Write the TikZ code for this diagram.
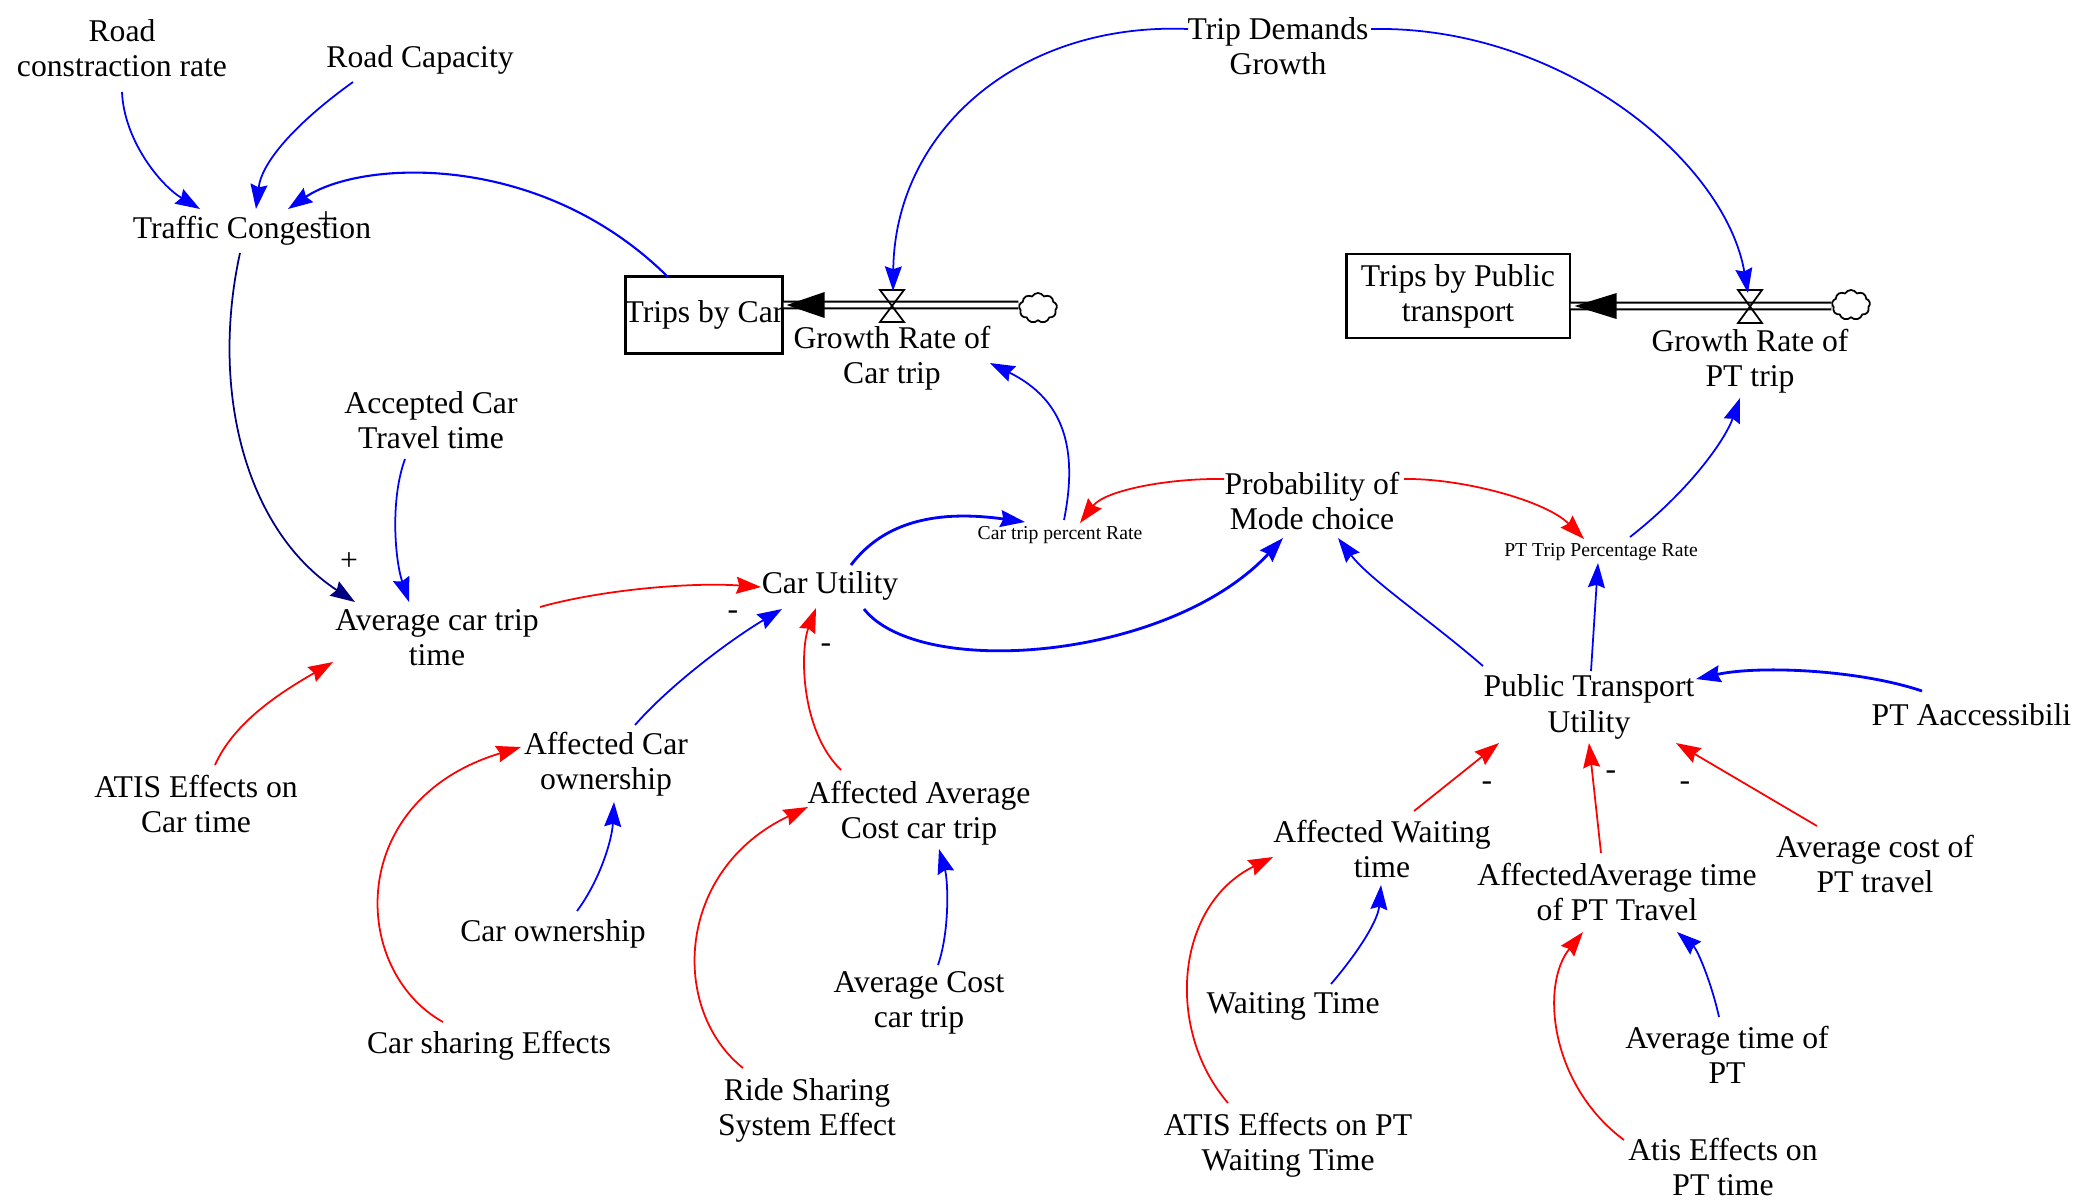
\documentclass[tikz,border=0pt]{standalone}
\usepackage{fontspec}
\setmainfont{Liberation Serif}
\usetikzlibrary{arrows.meta,shapes.symbols}
\definecolor{vblue}{RGB}{0,0,255}
\definecolor{vred}{RGB}{255,0,0}
\definecolor{vnavy}{RGB}{0,0,128}
\begin{document}
\begin{tikzpicture}[x=0.01cm,y=-0.01cm,
  lbl/.style={align=center,inner sep=0pt,font=\fontsize{9}{10}\selectfont},
  smalllbl/.style={align=center,inner sep=0pt,font=\fontsize{5.6}{6}\selectfont},
  sgn/.style={inner sep=0pt,font=\fontsize{9}{10}\selectfont},
  arr/.style={-{Stealth[length=7pt,width=4.8pt,inset=0.8pt]}},
  blu/.style={arr,draw=vblue,line width=0.5pt},
  blut/.style={arr,draw=vblue,line width=0.8pt},
  rd/.style={arr,draw=vred,line width=0.5pt},
  nv/.style={arr,draw=vnavy,line width=0.5pt},
  stock/.style={draw,line width=0.6pt,align=center,inner sep=0pt,font=\fontsize{9}{10}\selectfont},
  pipe/.style={draw=black,line width=0.55pt,double=white,double distance=1.4pt},
  cloudn/.style={cloud,draw,cloud puffs=9,cloud puff arc=120,inner sep=0pt,minimum width=0.38cm,minimum height=0.3cm,line width=0.5pt}
]
\useasboundingbox (0,0) rectangle (2078,1199);

% stocks and flows
\node[stock,minimum width=1.57cm,minimum height=0.77cm] (tcar) at (704,315) {\makebox[1.5cm]{Trips by Car}};
\node[stock,minimum width=2.23cm,minimum height=0.84cm] (tpt) at (1458,296) {Trips by Public\\transport};
\coordinate (vcar) at (892,305);
\coordinate (vpt) at (1750,306);
\node[cloudn] (ccar) at (1038,308) {};
\node[cloudn] (cpt) at (1851,305) {};
\draw[pipe] ([shift={(0,-10)}]tcar.east) -- ([shift={(0,-3)}]ccar.west);
\draw[pipe] ([shift={(0,10)}]tpt.east) -- ([shift={(0,1)}]cpt.west);
\fill ([shift={(3,-10)}]tcar.east) -- ++(38,-13) -- ++(0,26) -- cycle;
\fill ([shift={(4,10)}]tpt.east) -- ++(42,-13) -- ++(0,26) -- cycle;
\draw[line width=0.5pt] ([shift={(-12,-15)}]vcar) -- ++(24,0) -- ++(-24,32) -- ++(24,0) -- cycle;
\draw[line width=0.5pt] ([shift={(-12,-16)}]vpt) -- ++(24,0) -- ++(-24,33) -- ++(24,0) -- cycle;

% variables
\node[lbl] (rc) at (122,48) {Road\\constraction rate};
\node[lbl] (rcap) at (420,60) {Road Capacity};
\node[lbl] (tc) at (252,231) {Traffic Congestion};
\node[lbl] (gcar) at (892,358) {Growth Rate of\\Car trip};
\node[lbl] (tdg) at (1278,46) {Trip Demands\\Growth};
\node[lbl] (gpt) at (1750,361) {Growth Rate of\\PT trip};
\node[lbl] (actt) at (431,420) {Accepted Car\\Travel time};
\node[lbl] (acct) at (437,638) {Average car trip\\time};
\node[lbl] (cu) at (830,586) {Car Utility};
\node[smalllbl] (ctpr) at (1060,535) {Car trip percent Rate};
\node[lbl] (pmc) at (1312,501) {Probability of\\Mode choice};
\node[smalllbl] (ptpr) at (1601,552) {PT Trip Percentage Rate};
\node[lbl] (ptu) at (1589,707) {Public Transport\\Utility};
\node[lbl,anchor=west] (pta) at (1871,715) {PT Aaccessibili};
\node[lbl] (atisc) at (196,804) {ATIS Effects on\\Car time};
\node[lbl] (aco) at (606,764) {Affected Car\\ownership};
\node[lbl] (aac) at (919,813) {Affected Average\\Cost car trip};
\node[lbl] (co) at (553,934) {Car ownership};
\node[lbl] (cse) at (489,1046) {Car sharing Effects};
\node[lbl] (avc) at (919,1003) {Average Cost\\car trip};
\node[lbl] (rss) at (807,1110) {Ride Sharing\\System Effect};
\node[lbl] (awt) at (1382,849) {Affected Waiting\\time};
\node[lbl] (aat) at (1617,892) {AffectedAverage time\\of PT Travel};
\node[lbl] (acp) at (1875,864) {Average cost of\\PT travel};
\node[lbl] (wt) at (1293,1006) {Waiting Time};
\node[lbl] (atp) at (1727,1055) {Average time of\\PT};
\node[lbl] (atispt) at (1288,1145) {ATIS Effects on PT\\Waiting Time};
\node[lbl] (atisptt) at (1723,1167) {Atis Effects on\\PT time};

% polarity signs
\node[sgn] (p0) at (326,221) {+};
\node[sgn] (p1) at (349,562) {+};
\node[sgn] (m1) at (733,615) {-};
\node[sgn] (m2) at (826,648) {-};
\node[sgn] (m3) at (1487,786) {-};
\node[sgn] (m4) at (1611,775) {-};
\node[sgn] (m5) at (1685,786) {-};

% links
\draw[blu] ([shift={(0,44)}]rc.center) .. controls (124,140) and (160,185) .. ([shift={(-52,-22)}]tc.center);
\draw[blu] ([shift={(-67,22)}]rcap.center) .. controls (300,120) and (262,160) .. ([shift={(4,-22)}]tc.center);
\draw[blu,line width=0.6pt] ([shift={(-36,-38)}]tcar.center) .. controls (540,150) and (360,160) .. ([shift={(36,-22)}]tc.center);
\draw[nv] ([shift={(-12,22)}]tc.center) .. controls (210,390) and (245,530) .. ([shift={(-82,-36)}]acct.center);
\draw[blu] ([shift={(-26,39)}]actt.center) .. controls (390,500) and (395,560) .. ([shift={(-28,-36)}]acct.center);
\draw[rd] ([shift={(103,-31)}]acct.center) .. controls (600,590) and (690,582) .. ([shift={(-69,1)}]cu.center);
\draw[rd] ([shift={(19,-39)}]atisc.center) .. controls (235,720) and (285,690) .. ([shift={(-104,24)}]acct.center);
\draw[blut] ([shift={(21,-21)}]cu.center) .. controls (885,520) and (940,510) .. ([shift={(-35,-13)}]ctpr.center);
\draw[blut] ([shift={(34,23)}]cu.center) .. controls (920,680) and (1170,660) .. ([shift={(-29,37)}]pmc.center);
\draw[blu] ([shift={(4,-15)}]ctpr.center) .. controls (1078,450) and (1065,400) .. ([shift={(98,5)}]gcar.center);
\draw[rd] ([shift={(-88,-22)}]pmc.center) .. controls (1170,478) and (1105,490) .. ([shift={(20,-12)}]ctpr.center);
\draw[rd] ([shift={(92,-22)}]pmc.center) .. controls (1460,478) and (1545,500) .. ([shift={(-17,-13)}]ptpr.center);
\draw[blu] ([shift={(29,-15)}]ptpr.center) .. controls (1690,490) and (1725,440) .. ([shift={(-10,37)}]gpt.center);
\draw[blu] ([shift={(2,-36)}]ptu.center) -- ([shift={(-3,11)}]ptpr.center);
\draw[blu] ([shift={(-106,-41)}]ptu.center) .. controls (1430,620) and (1370,580) .. ([shift={(26,37)}]pmc.center);
\draw[blut] ([shift={(51,-24)}]pta.west) .. controls (1860,670) and (1760,665) .. ([shift={(107,-28)}]ptu.center);
\draw[rd] ([shift={(32,-38)}]awt.center) -- ([shift={(-90,36)}]ptu.center);
\draw[rd] ([shift={(-16,-39)}]aat.center) -- ([shift={(0,36)}]ptu.center);
\draw[rd] ([shift={(-58,-38)}]acp.center) -- ([shift={(87,36)}]ptu.center);
\draw[blu] ([shift={(38,-22)}]wt.center) .. controls (1360,950) and (1378,920) .. ([shift={(-1,36)}]awt.center);
\draw[rd] ([shift={(-60,-42)}]atispt.center) .. controls (1165,1030) and (1175,905) .. ([shift={(-109,8)}]awt.center);
\draw[blu] ([shift={(-8,-38)}]atp.center) .. controls (1712,985) and (1698,950) .. ([shift={(60,40)}]aat.center);
\draw[rd] ([shift={(-99,-27)}]atisptt.center) .. controls (1550,1085) and (1540,985) .. ([shift={(-34,40)}]aat.center);
\draw[blu] ([shift={(29,-39)}]aco.center) .. controls (670,685) and (730,640) .. ([shift={(-48,23)}]cu.center);
\draw[rd] ([shift={(-78,-43)}]aac.center) .. controls (800,730) and (800,650) .. ([shift={(-14,22)}]cu.center);
\draw[blu] ([shift={(24,-23)}]co.center) .. controls (600,880) and (612,840) .. ([shift={(8,38)}]aco.center);
\draw[rd] ([shift={(-46,-24)}]cse.center) .. controls (350,970) and (345,800) .. ([shift={(-85,-17)}]aco.center);
\draw[rd] ([shift={(-64,-42)}]rss.center) .. controls (670,1010) and (675,870) .. ([shift={(-111,-6)}]aac.center);
\draw[blu] ([shift={(19,-38)}]avc.center) .. controls (950,930) and (948,880) .. ([shift={(20,36)}]aac.center);
\draw[blu] ([shift={(-90,-17)}]tdg.center) .. controls (1020,22) and (895,130) .. ([shift={(1,-14)}]vcar);
\draw[blu] ([shift={(93,-17)}]tdg.center) .. controls (1560,25) and (1725,160) .. ([shift={(-2,-13)}]vpt);
\end{tikzpicture}
\end{document}
